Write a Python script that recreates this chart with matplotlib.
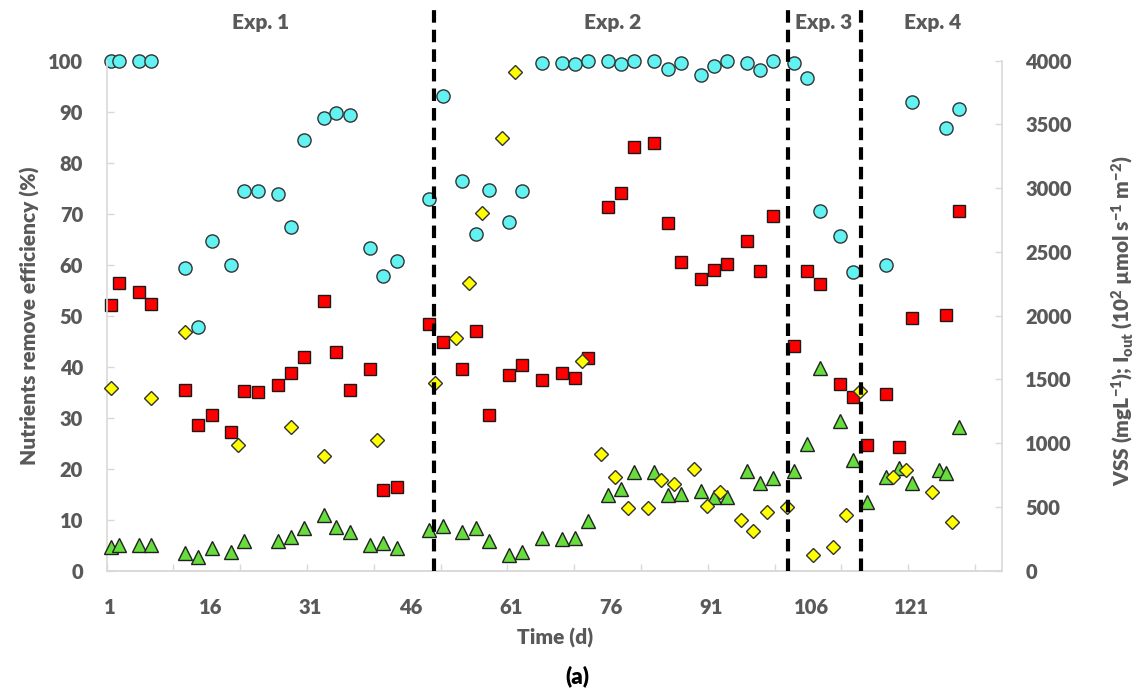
import matplotlib
matplotlib.use('Agg')
import matplotlib.pyplot as plt
from matplotlib.ticker import MultipleLocator

# days of sampling (x)
day_a = [1.2, 2.3, 5.3, 7.2, 12.2, 14.1, 16.2, 19.1, 21.1, 23.1, 26.1, 28.1, 30.0, 33.0, 34.9, 36.9,
         39.9, 41.9, 43.9, 48.7, 50.8, 53.7, 55.8, 57.7, 60.7, 62.7, 65.7, 68.6, 70.6, 72.6, 75.6,
         77.5, 79.5, 82.5, 84.5, 86.5, 89.5, 91.5, 93.4, 96.4, 98.3, 100.3, 103.4, 105.3, 107.3,
         110.3, 112.2, 117.2, 121.1, 126.1, 128.1]
cyan_eff = [100, 100, 100, 100, 59.3, 47.8, 64.7, 59.9, 74.5, 74.5, 73.9, 67.4, 84.4, 88.8, 89.8, 89.3,
            63.2, 57.7, 60.7, 72.8, 93.0, 76.4, 65.9, 74.6, 68.4, 74.4, 99.6, 99.6, 99.4, 100, 100,
            99.4, 100, 100, 98.3, 99.6, 97.1, 98.9, 100, 99.6, 98.1, 100, 99.6, 96.6, 70.4,
            65.5, 58.5, 59.9, 91.8, 86.8, 90.5]

day_r = [1.2, 2.3, 5.3, 7.2, 12.2, 14.1, 16.2, 19.1, 21.1, 23.1, 26.1, 28.1, 30.0, 33.0, 34.9, 36.9,
         39.9, 41.9, 43.9, 48.7, 50.8, 53.7, 55.8, 57.7, 60.7, 62.7, 65.7, 68.6, 70.6, 72.6, 75.6,
         77.5, 79.5, 82.5, 84.5, 86.5, 89.5, 91.5, 93.4, 96.4, 98.3, 100.3, 103.4, 105.3, 107.3,
         110.3, 112.2, 114.3, 117.2, 119.1, 121.1, 126.1, 128.1]
red_eff = [52.1, 56.3, 54.7, 52.3, 35.3, 28.5, 30.5, 27.1, 35.2, 35.0, 36.3, 38.7, 41.8, 52.9, 42.8, 35.4,
           39.5, 15.8, 16.3, 48.3, 44.9, 39.6, 47.0, 30.4, 38.3, 40.3, 37.4, 38.8, 37.8, 41.6, 71.3,
           74.0, 83.1, 83.9, 68.2, 60.4, 57.2, 58.9, 60.1, 64.6, 58.8, 69.5, 44.0, 58.8, 56.1,
           36.5, 34.1, 24.6, 34.7, 24.2, 49.5, 50.2, 70.4]

day_y = [1.2, 7.2, 12.2, 20.1, 28.1, 33.0, 40.9, 49.6, 52.8, 54.8, 56.7, 59.7, 61.7, 71.6, 74.5, 76.6,
         78.5, 81.5, 83.5, 85.4, 88.4, 90.4, 92.4, 95.4, 97.3, 99.3, 102.4, 106.3, 109.2, 111.2,
         113.3, 118.2, 120.2, 124.1, 127.1]
yellow_right = [1428, 1356, 1868, 988, 1124, 900, 1020, 1472, 1824, 2252, 2808, 3396, 3908, 1644, 912, 736,
                488, 488, 708, 676, 796, 508, 612, 396, 308, 460, 500, 120, 188, 432,
                1408, 732, 792, 612, 380]

day_g = [1.2, 2.3, 5.3, 7.2, 12.2, 14.1, 16.2, 19.1, 21.1, 26.1, 28.1, 30.0, 33.0, 34.9, 36.9, 39.9,
         41.9, 43.9, 48.7, 50.8, 53.7, 55.8, 57.7, 60.7, 62.7, 65.7, 68.6, 70.6, 72.6, 75.6, 77.5,
         79.5, 82.5, 84.5, 86.5, 89.5, 91.5, 93.4, 96.4, 98.3, 100.3, 103.4, 105.3, 107.3, 110.3,
         112.2, 114.3, 117.2, 119.1, 121.1, 125.1, 126.1, 128.1]
green_right = [188, 200, 204, 204, 136, 104, 180, 144, 232, 232, 264, 332, 436, 340, 300, 200,
               212, 176, 316, 348, 300, 332, 232, 120, 144, 252, 248, 252, 392, 592, 636,
               776, 772, 596, 604, 620, 580, 580, 784, 688, 724, 780, 996, 1592, 1176,
               868, 536, 736, 808, 684, 792, 768, 1128]

exp_bounds = [49.5, 102.5, 113.5]
exp_names = ['Exp. 1', 'Exp. 2', 'Exp. 3', 'Exp. 4']
exp_label_x = [23.5, 76.3, 107.9, 124.1]
xtick_days = [1, 16, 31, 46, 61, 76, 91, 106, 121]

GREY = '#595959'
SPINE = '#d9d9d9'
FONT = ['Lato', 'DejaVu Sans']


def style_axes(ax, side):
    for s in ['top', 'left', 'right', 'bottom']:
        ax.spines[s].set_visible(False)
    ax.spines['bottom'].set_visible(True)
    ax.spines['bottom'].set_color(SPINE)
    ax.spines['bottom'].set_linewidth(1.2)
    ax.spines[side].set_visible(True)
    ax.spines[side].set_color(SPINE)
    ax.spines[side].set_linewidth(1.2)
    ax.tick_params(axis='y', direction='in', length=5, width=1, color=SPINE,
                   labelsize=14.5, labelcolor=GREY, pad=17)
    for lab in ax.get_yticklabels():
        lab.set_fontweight('heavy')


def main():
    plt.rcParams['font.family'] = FONT
    plt.rcParams['mathtext.default'] = 'regular'
    fig = plt.figure(figsize=(11.41, 6.95), dpi=100)
    ax = fig.add_axes([0.0935, 0.1791, 0.7844, 0.7338])
    ax2 = ax.twinx()

    ax.plot(day_a, cyan_eff, ls='none', marker='o', ms=9.5, mfc='#62f2f2', mec='#333333', mew=1.0,
            clip_on=False)
    ax.plot(day_r, red_eff, ls='none', marker='s', ms=9, mfc='#ff0000', mec='#1a1a1a', mew=1.0,
            clip_on=False)
    ax2.plot(day_g, green_right, ls='none', marker='^', ms=9.5, mfc='#66dd3c', mec='#222222', mew=1.0,
             clip_on=False)
    ax2.plot(day_y, yellow_right, ls='none', marker='D', ms=7.4, mfc='#ffff00', mec='#333333', mew=1.0,
             clip_on=False)

    ax.set_xlim(0.5, 134.5)
    ax.set_ylim(0, 100)
    ax2.set_ylim(0, 4000)
    ax.set_yticks(range(0, 101, 10))
    ax2.set_yticks(range(0, 4001, 500))
    ax.set_xticks(xtick_days)
    ax.xaxis.set_minor_locator(MultipleLocator(10, offset=0.5))
    ax.tick_params(axis='x', which='major', length=0, labelsize=14.5, labelcolor=GREY, pad=20)
    ax.tick_params(axis='x', which='minor', direction='in', length=5, width=1, color=SPINE)
    for lab in ax.get_xticklabels():
        lab.set_fontweight('heavy')
    style_axes(ax, 'left')
    style_axes(ax2, 'right')

    for xb in exp_bounds:
        ax2.vlines(xb, 0, 4400, colors='black', lw=3, linestyles=(0, (3, 1.7)), zorder=10, clip_on=False)
    for name, xl in zip(exp_names, exp_label_x):
        ax.text(xl, 107.5, name, ha='center', va='center', fontsize=15, fontweight='heavy', color=GREY,
                clip_on=False)

    ax.set_ylabel('Nutrients remove efficiency (%)', fontsize=15, fontweight='heavy', color=GREY)
    ax.yaxis.set_label_coords(-0.075, 0.5)
    ax2.set_ylabel('VSS (mgL$^{-1}$); I$_{out}$ (10$^{2}$ µmol s$^{-1}$ m$^{-2}$)', fontsize=15,
                   fontweight='heavy', color=GREY, rotation=90)
    ax2.yaxis.set_label_coords(1.121, 0.49)
    fig.text(0.4865, 0.082, 'Time (d)', ha='center', va='center', fontsize=15, fontweight='heavy',
             color=GREY)
    fig.text(0.5057, 0.027, '(a)', ha='center', va='center', fontsize=16, fontweight='heavy', color='black')

    fig.savefig('out.png', dpi=100)


if __name__ == '__main__':
    main()
